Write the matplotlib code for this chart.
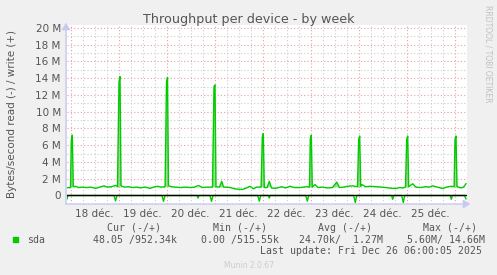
import matplotlib
matplotlib.use("Agg")
import matplotlib.pyplot as plt
import numpy as np

# write (+) en Mo/s, heures depuis le 18 déc. 00:00
write_h = [-1.75, -0.75, 0.0, 0.4, 0.9, 1.4,
           2.5, 4.0, 6.0, 8.0, 10.0, 12.6, 14.5, 16.75, 18.5, 20.5, 22.5, 23.5,
           24.25, 24.75, 25.25,
           27.0, 29.0, 31.0, 33.0, 35.0, 37.5, 39.75, 41.5, 43.4, 45.5, 47.3,
           48.0, 48.5, 49.0,
           50.5, 52.5, 55.0, 57.5, 60.0, 62.0, 64.0, 66.0, 68.5, 71.0,
           71.75, 72.25, 72.75,
           74.5, 75.6, 76.5, 78.0, 80.0, 82.0, 84.0, 86.0, 88.0, 89.75, 91.4, 93.0, 95.3,
           95.9, 96.4, 96.9,
           98.3, 99.4, 100.5, 102.5, 105.6, 107.5, 109.75, 112.0, 114.75, 116.5, 118.1, 119.5,
           119.9, 120.4, 120.9,
           122.25, 123.75, 126.0, 128.5, 131.0, 133.1, 134.5, 136.5, 138.5, 141.0, 143.5,
           144.1, 144.6, 145.1,
           145.75, 147.5, 150.0, 153.0, 155.5, 157.75, 160.0, 162.75, 164.5, 166.1, 167.5,
           168.1, 168.6, 169.1,
           171.1, 172.75, 175.0, 177.5, 179.25, 181.1, 183.5, 186.1, 188.0, 190.25, 191.8,
           192.25, 192.75, 193.25,
           193.6, 195.25, 196.5, 197.75]
write_mb = [0.92, 0.95, 0.93, 6.6, 7.2, 1.05,
            1.1, 0.95, 1.0, 0.95, 1.0, 0.85, 1.0, 1.15, 1.0, 1.05, 1.2, 1.05,
            13.6, 14.2, 1.15,
            1.0, 1.05, 0.95, 1.0, 0.92, 1.0, 0.85, 1.0, 1.1, 1.0, 1.05,
            13.5, 14.1, 1.15,
            1.05, 1.0, 0.95, 1.0, 0.95, 1.0, 1.2, 0.95, 1.0, 1.0,
            13.0, 13.2, 1.05,
            1.0, 1.7, 1.0, 1.0, 0.95, 0.8, 0.75, 0.72, 0.9, 1.1, 0.8, 1.0, 1.0,
            6.9, 7.4, 0.95,
            0.95, 1.7, 0.9, 0.85, 1.05, 0.9, 1.1, 0.95, 0.95, 1.0, 1.05, 1.0,
            6.8, 7.2, 1.0,
            1.3, 0.95, 1.0, 0.9, 0.95, 1.6, 0.95, 1.0, 1.1, 1.15, 1.05,
            6.7, 7.1, 1.1,
            1.3, 1.05, 1.1, 1.05, 1.0, 0.95, 0.88, 0.83, 0.95, 0.9, 1.0,
            6.7, 7.1, 1.05,
            1.4, 1.0, 0.95, 1.05, 1.0, 1.15, 1.0, 0.83, 1.0, 1.1, 1.05,
            6.7, 7.1, 1.05,
            1.03, 0.9, 1.0, 1.4]

# read (-) en Mo/s
read_h = [-1.75, -1.25, 21.75, 22.5, 23.25, 45.75, 46.5, 47.25, 63.25, 63.75, 64.25,
          69.75, 70.5, 71.25, 93.6, 94.4, 95.1, 98.9, 99.4, 99.9, 117.6, 118.4, 119.1,
          141.6, 142.4, 143.1, 160.5, 161.1, 161.7, 165.6, 166.4, 167.1,
          189.8, 190.4, 191.0, 197.0, 197.75]
read_mb = [-0.4, 0.0, 0.0, -0.65, 0.0, 0.0, -0.7, 0.0, 0.0, -0.3, 0.0,
           0.0, -0.7, 0.0, 0.0, -0.68, 0.0, 0.0, -0.3, 0.0, 0.0, -0.68, 0.0,
           0.0, -0.85, 0.0, 0.0, -0.45, 0.0, 0.0, -0.85, 0.0,
           0.0, -0.45, 0.0, 0.0, -0.4]

day_labels = ["18 déc.", "19 déc.", "20 déc.", "21 déc.", "22 déc.", "23 déc.", "24 déc.", "25 déc."]
y_ticks = [0, 2, 4, 6, 8, 10, 12, 14, 16, 18, 20]
y_labels = ["0"] + ["%d M" % v for v in y_ticks[1:]]

W, H = 497, 275
fig = plt.figure(figsize=(W / 100, H / 100), dpi=100, facecolor="#f0f0f0")
ax = fig.add_axes([67 / W, 1 - 204 / H, 400 / W, 179 / H], facecolor="white")

green = "#00cc00"
wh = np.array(write_h)
wm = np.array(write_mb)
ax.fill_between(wh, wm, 1.0, where=wm > 1.5, interpolate=True, color="#8ee68e", lw=0)
ax.plot(wh, wm, color=green, lw=1.0, zorder=4)
ax.plot(read_h, read_mb, color=green, lw=1.0, zorder=4)
ax.axhline(0, color="black", lw=1.0, zorder=5)

ax.set_xlim(-1.75, 198.25)
ax.set_ylim(-1.015, 20.358)

# grilles
for h in np.arange(0, 199, 6):
    if h % 24 == 0:
        ax.axvline(h, color="#e8a0a0", lw=0.8, ls=(0, (1, 2)), zorder=1)
    else:
        ax.axvline(h, color="#cccccc", lw=0.8, ls=(0, (1, 2)), zorder=1)
for v in range(0, 21):
    if v % 2 == 0:
        ax.axhline(v, color="#e8a0a0", lw=0.8, ls=(0, (1, 2)), zorder=1)
    else:
        ax.axhline(v, color="#cccccc", lw=0.8, ls=(0, (1, 2)), zorder=1)

ax.set_yticks(y_ticks)
ax.set_yticklabels(y_labels)
ax.set_xticks([12 + 24 * i for i in range(len(day_labels))])
ax.set_xticklabels(day_labels)
ax.tick_params(axis="y", length=0, pad=4.5, labelsize=7.5, labelcolor="#555555")
ax.tick_params(axis="x", length=0, pad=3.5, labelsize=7.5, labelcolor="#555555")
for s in ax.spines.values():
    s.set_visible(False)

# axes avec fleches
axc = "#c8c8f0"
fig.add_artist(matplotlib.patches.FancyArrowPatch((66 / W, 1 - 207 / H), (66 / W, 1 - 20 / H),
               transform=fig.transFigure, arrowstyle="-|>,head_length=4,head_width=2.5", color=axc, lw=1))
fig.add_artist(matplotlib.patches.FancyArrowPatch((63 / W, 1 - 204 / H), (473 / W, 1 - 204 / H),
               transform=fig.transFigure, arrowstyle="-|>,head_length=4,head_width=2.5", color=axc, lw=1))

fig.text(248.5 / W, 1 - 19 / H, "Throughput per device - by week", ha="center", va="center",
         fontsize=9.2, color="#555555")
fig.text(12 / W, 1 - 114.5 / H, "Bytes/second read (-) / write (+)", rotation=90,
         ha="center", va="center", fontsize=7.5, color="#555555")
fig.text(488 / W, 1 - 5 / H, "RRDTOOL / TOBI OETIKER", rotation=-90, ha="center", va="top",
         fontsize=5.5, color="#c0c0c0")

mono = dict(family="DejaVu Sans Mono", fontsize=7.1, color="#555555", va="center")
fig.text(107 / W, 1 - 228 / H, "Cur (-/+)", **mono)
fig.text(213 / W, 1 - 228 / H, "Min (-/+)", **mono)
fig.text(318 / W, 1 - 228 / H, "Avg (-/+)", **mono)
fig.text(423 / W, 1 - 228 / H, "Max (-/+)", **mono)
fig.add_artist(matplotlib.patches.Rectangle((13 / W, 1 - 242 / H), 5 / W, 5 / H,
               transform=fig.transFigure, color=green))
fig.text(27 / W, 1 - 240 / H, "sda", **mono)
fig.text(93 / W, 1 - 240 / H, "48.05 /952.34k", **mono)
fig.text(201 / W, 1 - 240 / H, "0.00 /515.55k", **mono)
fig.text(299 / W, 1 - 240 / H, "24.70k/  1.27M", **mono)
fig.text(407 / W, 1 - 240 / H, "5.60M/ 14.66M", **mono)
fig.text(482 / W, 1 - 251 / H, "Last update: Fri Dec 26 06:00:05 2025", ha="right",
         family="DejaVu Sans Mono", fontsize=7.1, color="#555555", va="center")
fig.text(249 / W, 1 - 265 / H, "Munin 2.0.67", ha="center", va="center", fontsize=5.5, color="#cccccc")

fig.savefig("out.png", dpi=100, facecolor=fig.get_facecolor())
